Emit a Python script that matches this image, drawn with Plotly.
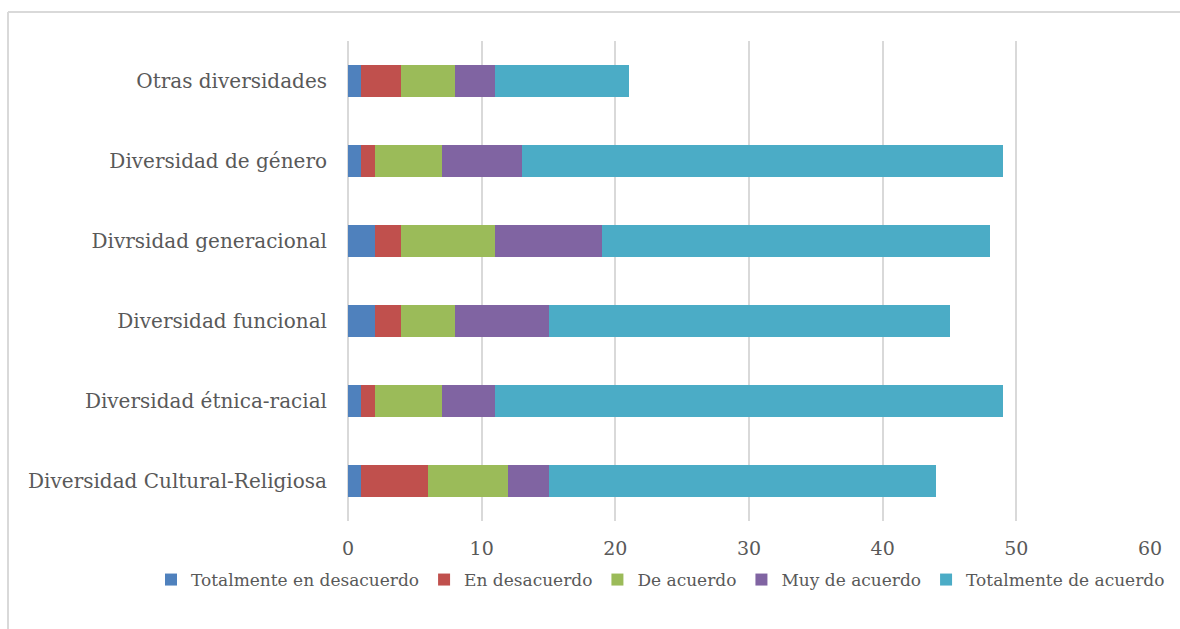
import plotly.graph_objects as go

# Categories listed bottom to top, as they appear on the y axis
categorias = [
    "Diversidad Cultural-Religiosa",
    "Diversidad étnica-racial",
    "Diversidad funcional",
    "Divrsidad generacional",
    "Diversidad de género",
    "Otras diversidades",
]

totalmente_desacuerdo = [1, 1, 2, 2, 1, 1]
en_desacuerdo = [5, 1, 2, 2, 1, 3]
de_acuerdo = [6, 5, 4, 7, 5, 4]
muy_de_acuerdo = [3, 4, 7, 8, 6, 3]
totalmente_de_acuerdo = [29, 38, 30, 29, 36, 10]

series = [
    ("Totalmente en desacuerdo", totalmente_desacuerdo, "#4F81BD"),
    ("En desacuerdo", en_desacuerdo, "#C0504D"),
    ("De acuerdo", de_acuerdo, "#9BBB59"),
    ("Muy de acuerdo", muy_de_acuerdo, "#8064A2"),
    ("Totalmente de acuerdo", totalmente_de_acuerdo, "#4BACC6"),
]

ticks_x = [0, 10, 20, 30, 40, 50, 60]

FONT = "DejaVu Serif"
GREY = "#595959"
GRID = "#D9D9D9"

fig = go.Figure()
for nombre, valores, color in series:
    fig.add_trace(go.Bar(
        y=categorias, x=valores, name=nombre, orientation="h",
        marker=dict(color=color, line=dict(width=0)),
    ))

W, H = 1180, 629
ML, MR, MT, MB = 348, 30, 41, 108
pw, ph = W - ML - MR, H - MT - MB

fig.update_layout(
    width=W, height=H,
    margin=dict(l=ML, r=MR, t=MT, b=MB, autoexpand=False),
    barmode="stack", bargap=0.6,
    paper_bgcolor="white", plot_bgcolor="white",
    font=dict(family=FONT, color=GREY, size=20),
    showlegend=True,
    legend=dict(
        orientation="h",
        x=(151 - ML) / pw, xanchor="left",
        y=-(580 - (H - MB)) / ph, yanchor="middle",
        font=dict(family=FONT, size=17, color=GREY),
        traceorder="normal", itemwidth=30, tracegroupgap=0,
        bgcolor="rgba(0,0,0,0)",
    ),
    xaxis=dict(
        range=[0, 60], tickvals=ticks_x, showgrid=True, gridcolor=GRID,
        gridwidth=1.5, zeroline=True, zerolinecolor=GRID, zerolinewidth=1.5,
        showline=False, ticks="", tickfont=dict(size=19, color=GREY),
        ticklabelstandoff=14, fixedrange=True, automargin=False,
    ),
    yaxis=dict(
        showgrid=False, zeroline=False, showline=False, ticks="",
        ticklabelstandoff=20, tickfont=dict(size=20, color=GREY),
        fixedrange=True, automargin=False,
    ),
)

# Light grey frame around the chart area (top and left edges)
x_left = (8 - ML) / pw
y_top = (H - MB - 12) / ph
fig.add_shape(type="line", xref="paper", yref="paper",
              x0=x_left, x1=1.2, y0=y_top, y1=y_top,
              line=dict(color=GRID, width=2))
fig.add_shape(type="line", xref="paper", yref="paper",
              x0=x_left, x1=x_left, y0=y_top, y1=-0.4,
              line=dict(color=GRID, width=2))

fig.write_html("out.html")
